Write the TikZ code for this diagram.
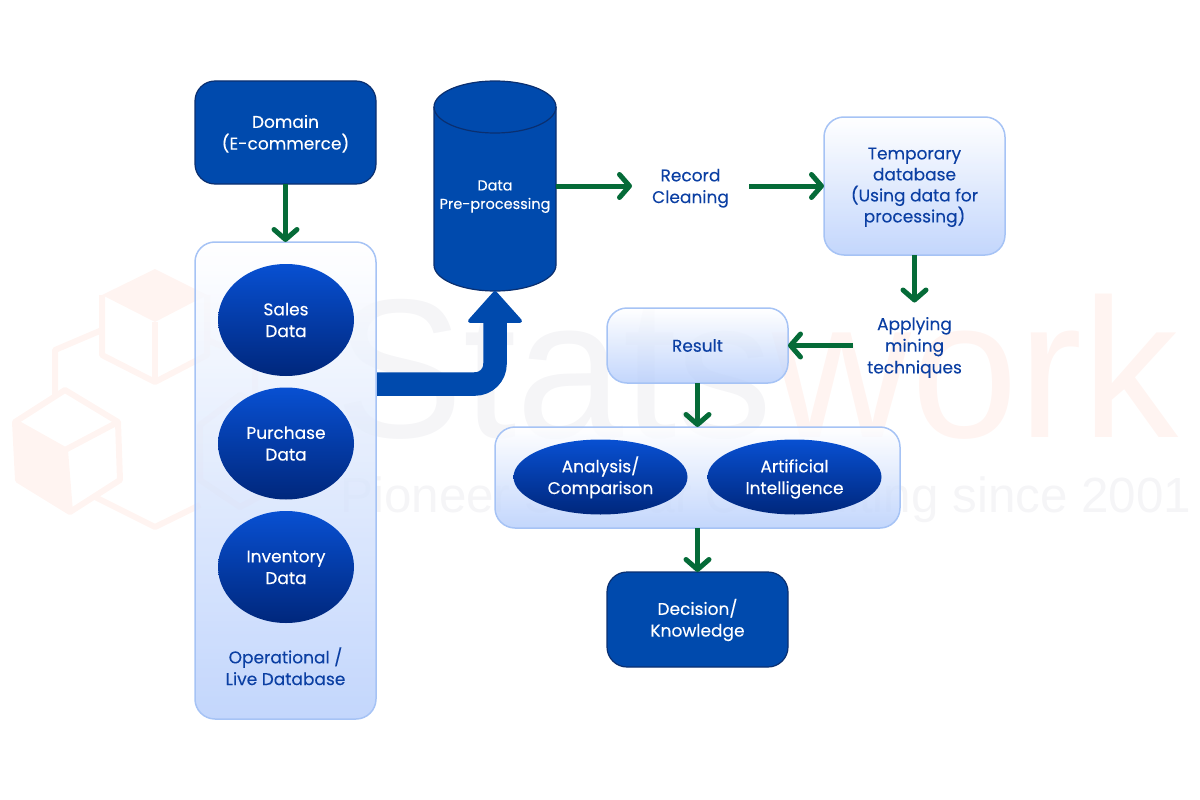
\documentclass[tikz,border=0pt]{standalone}
\usepackage{graphicx}
\usepackage{fontspec}
\setmainfont[FakeBold=0.12]{Poppins}
\newfontfamily\markfont{Liberation Sans}
\usetikzlibrary{arrows.meta}
\usetikzlibrary{shapes.geometric}
\newcommand{\firstrule}{\rule{0pt}{19pt}}
\newcommand{\lastrule}{\rule[-6.6pt]{0pt}{6.6pt}}
\definecolor{darkblue}{HTML}{004AAD}
\definecolor{edgeblue}{HTML}{0A2F70}
\definecolor{panelline}{HTML}{A6C3F5}
\definecolor{panelbottom}{HTML}{B4CCFB}
\definecolor{ovaltop}{HTML}{0850D2}
\definecolor{ovalbottom}{HTML}{00277C}
\definecolor{flowgreen}{HTML}{056B38}
\definecolor{labelblue}{HTML}{0B3FA3}
\definecolor{markgrey}{HTML}{F5F5F7}
\definecolor{markpink}{HTML}{FFF4F1}
\tikzset{
    labeltext/.style={font=\fontsize{17}{21.7}\selectfont, align=center, inner sep=0pt, outer sep=0pt},
    darkbox/.style={labeltext, draw=edgeblue, line width=1.2pt, fill=darkblue, text=white, rounded corners=20pt},
    lightbox/.style={labeltext, draw=panelline, line width=1.5pt, top color=white, bottom color=panelbottom, fill opacity=0.8, text opacity=1, text=labelblue, rounded corners=20pt},
    ovalbox/.style={labeltext, ellipse, top color=ovaltop, bottom color=ovalbottom, text=white},
    plaintext/.style={labeltext, text=labelblue},
    flowarrow/.style={draw=flowgreen, line width=5pt, -{Straight Barb[length=10pt,width=23pt,round]}},
    cubeline/.style={draw=markpink, line width=6pt, line join=round}
}
\begin{document}
\begin{tikzpicture}[x=1pt,y=-1pt]
        \useasboundingbox (0,0) rectangle (1200,800);

        \fill[markpink] (155,269) -- (207,295) -- (155,322) -- (102,295) -- cycle;
        \draw[cubeline] (102,295) -- (102,355) -- (155,382) -- (207,355) -- (207,295);
        \draw[cubeline] (155,322) -- (155,382);
        \draw[cubeline] (102,330) -- (55,350) -- (55,395);
        \fill[markpink] (15,422) -- (65,450) -- (70,512) -- (18,480) -- cycle;
        \draw[cubeline] (65,390) -- (118,422) -- (120,480) -- (70,512) -- (18,480) -- (15,422) -- cycle;
        \draw[cubeline] (15,422) -- (65,450) -- (118,422);
        \draw[cubeline] (65,450) -- (70,512);
        \draw[cubeline] (95,497) -- (155,527) -- (200,505);
        \draw[cubeline] (207,340) -- (255,360) -- (255,400);
        \draw[cubeline] (240,395) -- (200,425) -- (200,480) -- (240,507) -- (290,480) -- (290,425) -- cycle;

        \node[anchor=base west, inner sep=0pt, font=\markfont\fontsize{198}{198}\selectfont] (markname) at (335,437) {\scalebox{0.97}[1]{\textcolor{markgrey}{Stats}\textcolor{markpink}{work}}};
        \node[anchor=base west, inner sep=0pt, text=markgrey, font=\markfont\fontsize{49.4}{50}\selectfont] (markline) at (340,512) {Pioneer Scholar Consulting since 2001};

        \node[darkbox, minimum width=181pt, minimum height=103pt] (domain) at (285.5,132.5) {\firstrule Domain\\(E-commerce)\lastrule};
        \node[lightbox, minimum width=181pt, minimum height=477pt] (livedb) at (285.5,480.5) {};
        \node[ovalbox, minimum width=136pt, minimum height=112pt] (sales) at (286,320) {\firstrule Sales\\Data\lastrule};
        \node[ovalbox, minimum width=136pt, minimum height=112pt] (purchase) at (286,443.5) {\firstrule Purchase\\Data\lastrule};
        \node[ovalbox, minimum width=136pt, minimum height=112pt] (inventory) at (286,567) {\firstrule Inventory\\Data\lastrule};
        \node[plaintext] (livelabel) at (285.5,668) {\firstrule Operational /\\Live Database\lastrule};

        \node[inner sep=0pt, outer sep=0pt, minimum width=122pt, minimum height=210pt] (preproc) at (495,186) {};
        \filldraw[draw=edgeblue, line width=1.2pt, fill=darkblue] (preproc.north west) ++(0,26) arc[start angle=180, end angle=0, x radius=61pt, y radius=26pt] -- ++(0,158) arc[start angle=0, end angle=-180, x radius=61pt, y radius=26pt] -- cycle;
        \draw[edgeblue, line width=1.2pt] (preproc.north west) ++(0,26) arc[start angle=180, end angle=360, x radius=61pt, y radius=26pt];
        \node[labeltext, text=white, font=\fontsize{14.5}{18.5}\selectfont] (preproclabel) at (495,193.5) {\firstrule Data\\Pre-processing\lastrule};

        \coordinate (bigstart) at (377,384);
        \draw[draw=darkblue, line width=23.5pt, rounded corners=20pt, -{Triangle[length=33pt,width=58pt,round,line width=4pt]}] (bigstart) -| (preproc.south);

        \node[plaintext, minimum width=117pt] (record) at (690.5,186) {\firstrule Record\\Cleaning\lastrule};
        \node[lightbox, minimum width=181pt, minimum height=138pt] (tempdb) at (914.5,186) {\firstrule Temporary\\[-0.7pt]database\\[-0.7pt](Using data for\\[-0.7pt]processing)\rule[-9.2pt]{0pt}{9.2pt}};
        \node[plaintext, minimum width=124pt, minimum height=86pt] (applying) at (914.5,345.5) {\firstrule Applying\\mining\\techniques\lastrule};
        \node[lightbox, minimum width=181pt, minimum height=75pt] (result) at (697.5,345.5) {\firstrule Result\lastrule};
        \node[lightbox, minimum width=405pt, minimum height=101pt] (aibox) at (697.5,477.5) {};
        \node[ovalbox, minimum width=174pt, minimum height=75pt] (analysis) at (600.5,477) {\firstrule Analysis/\\Comparison\lastrule};
        \node[ovalbox, minimum width=174pt, minimum height=75pt] (artificial) at (794.5,477) {\firstrule Artificial\\Intelligence\lastrule};
        \node[darkbox, minimum width=181pt, minimum height=95pt] (decision) at (697.5,619.5) {\firstrule Decision/\\Knowledge\lastrule};

        \draw[flowarrow] (domain) -- (livedb);
        \draw[flowarrow] (preproc.east |- record.west) -- (record.west);
        \draw[flowarrow] (record.east) -- (tempdb.west);
        \draw[flowarrow] (tempdb) -- (applying);
        \draw[flowarrow] (applying.west) -- (result.east);
        \draw[flowarrow] (result) -- (aibox);
        \draw[flowarrow] (aibox) -- (decision);
    \end{tikzpicture}
\end{document}
